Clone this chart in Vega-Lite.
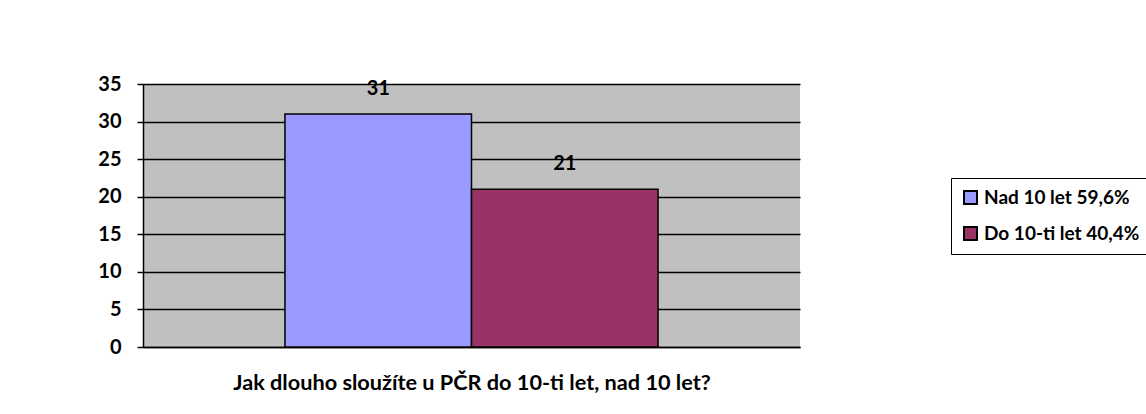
{
  "$schema": "https://vega.github.io/schema/vega-lite/v6.json",
  "width": 657,
  "height": 263,
  "autosize": {"type": "none"},
  "padding": {"left": 143, "top": 84, "right": 346, "bottom": 67},
  "background": "white",
  "config": {
    "font": "Lato",
    "view": {"fill": "#c0c0c0", "stroke": null}
  },
  "data": {
    "values": [
      {"kategorie": "Nad 10 let 59,6%", "pocet": 31},
      {"kategorie": "Do 10-ti let 40,4%", "pocet": 21}
    ]
  },
  "encoding": {
    "x": {
      "field": "kategorie",
      "type": "nominal",
      "sort": ["Nad 10 let 59,6%", "Do 10-ti let 40,4%"],
      "scale": {"paddingInner": 0, "paddingOuter": 0.761},
      "axis": {
        "labels": false,
        "ticks": false,
        "domainColor": "black",
        "domainWidth": 1.5,
        "title": "Jak dlouho sloužíte u PČR do 10-ti let, nad 10 let?",
        "titleFont": "Lato",
        "titleFontSize": 21.7,
        "titleFontWeight": "bold",
        "titleColor": "black",
        "titlePadding": 25
      }
    },
    "y": {
      "field": "pocet",
      "type": "quantitative",
      "scale": {"domain": [0, 35], "nice": false},
      "axis": {
        "values": [0, 5, 10, 15, 20, 25, 30, 35],
        "title": null,
        "grid": true,
        "gridColor": "black",
        "gridWidth": 1.5,
        "domainColor": "black",
        "domainWidth": 1.5,
        "tickColor": "black",
        "tickWidth": 1.5,
        "tickSize": 6,
        "labelFont": "Lato",
        "labelFontSize": 20,
        "labelFontWeight": "bold",
        "labelColor": "black",
        "labelPadding": 16
      }
    }
  },
  "layer": [
    {
      "mark": {"type": "bar", "stroke": "black", "strokeWidth": 1.5},
      "encoding": {
        "color": {
          "field": "kategorie",
          "type": "nominal",
          "sort": ["Nad 10 let 59,6%", "Do 10-ti let 40,4%"],
          "scale": {"range": ["#9999FF", "#993366"]},
          "legend": {
            "title": null,
            "orient": "none",
            "legendX": 808,
            "legendY": 94,
            "strokeColor": "black",
            "fillColor": "white",
            "padding": 10,
            "symbolType": "square",
            "symbolSize": 169,
            "symbolStrokeColor": "black",
            "symbolStrokeWidth": 2,
            "symbolOpacity": 1,
            "labelFont": "Lato",
            "labelFontSize": 19,
            "labelFontWeight": "bold",
            "labelColor": "black",
            "labelLimit": 300,
            "rowPadding": 15,
            "labelOffset": 4
          }
        }
      }
    },
    {
      "mark": {"type": "text", "dy": -25, "fontSize": 20, "fontWeight": "bold", "font": "Lato", "color": "black"},
      "encoding": {"text": {"field": "pocet", "type": "quantitative"}}
    }
  ]
}
